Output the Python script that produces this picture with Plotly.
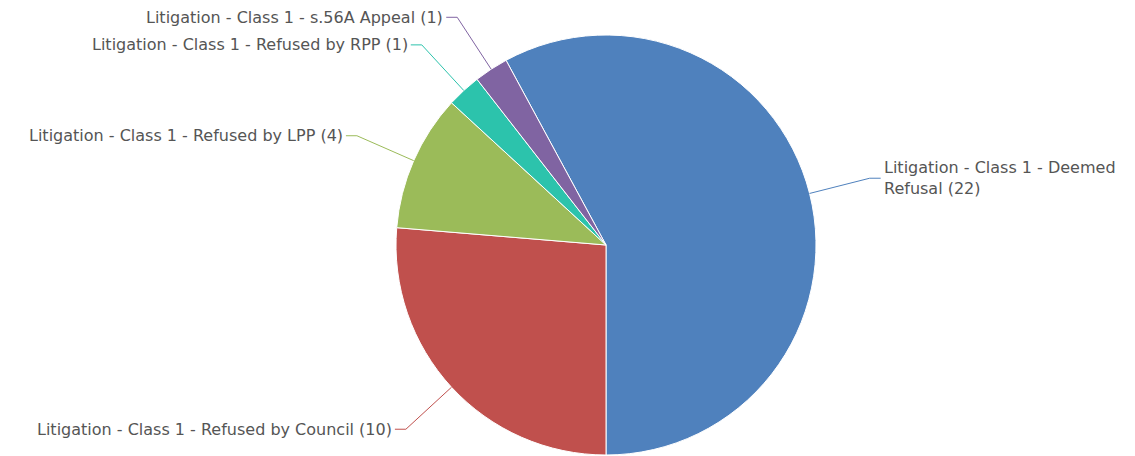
import math
import plotly.graph_objects as go

# ---- data ----
labels = [
    "Litigation - Class 1 - Deemed Refusal",
    "Litigation - Class 1 - Refused by Council",
    "Litigation - Class 1 - Refused by LPP",
    "Litigation - Class 1 - Refused by RPP",
    "Litigation - Class 1 - s.56A Appeal",
]
values = [22, 10, 4, 1, 1]
colors = ["#4F81BD", "#C0504D", "#9BBB59", "#2CC3AC", "#8064A2"]
label_texts = [
    "Litigation - Class 1 - Deemed<br>Refusal (22)",
    "Litigation - Class 1 - Refused by Council (10)",
    "Litigation - Class 1 - Refused by LPP (4)",
    "Litigation - Class 1 - Refused by RPP (1)",
    "Litigation - Class 1 - s.56A Appeal (1)",
]

W, H = 1135, 456
OFF = 8            # page body margin offset
CX, CY, R = 606, 245, 210
DIST = 62          # leader-line elbow distance beyond the pie edge
HSEG = 11          # horizontal part of leader line

total = sum(values)
rotation = 180 - values[0] / total * 360


def px(x):
    return (x - OFF) / W


def py(y):
    return 1 - (y - OFF) / H


fig = go.Figure(go.Pie(
    labels=labels, values=values, sort=False, direction="clockwise",
    rotation=rotation, marker=dict(colors=colors, line=dict(color="white", width=1)),
    textinfo="none", hoverinfo="label+value", showlegend=False,
    domain=dict(x=[px(CX - R), px(CX + R)], y=[py(CY + R), py(CY - R)]),
))

shapes, annotations = [], []
cum = 0.0
for lab, v, col in zip(label_texts, values, colors):
    mid = rotation + (cum + v / 2) / total * 360
    cum += v
    a = math.radians(mid)
    sx, sy = CX + R * math.sin(a), CY - R * math.cos(a)
    ex, ey = CX + (R + DIST) * math.sin(a), CY - (R + DIST) * math.cos(a)
    side = 1 if math.sin(a) >= 0 else -1
    hx = ex + side * HSEG
    shapes.append(dict(
        type="path", xref="paper", yref="paper",
        path=f"M {px(sx)} {py(sy)} L {px(ex)} {py(ey)} L {px(hx)} {py(ey)}",
        line=dict(color=col, width=1),
    ))
    annotations.append(dict(
        x=px(hx + side * 1), y=py(ey), xref="paper", yref="paper",
        text=lab, showarrow=False, align="left",
        xanchor="left" if side > 0 else "right", yanchor="middle",
        font=dict(family="DejaVu Sans", size=16, color="#555555"),
    ))

fig.update_layout(
    width=W, height=H, margin=dict(l=0, r=0, t=0, b=0),
    paper_bgcolor="white", plot_bgcolor="white",
    shapes=shapes, annotations=annotations,
)

fig.write_html("out.html")
